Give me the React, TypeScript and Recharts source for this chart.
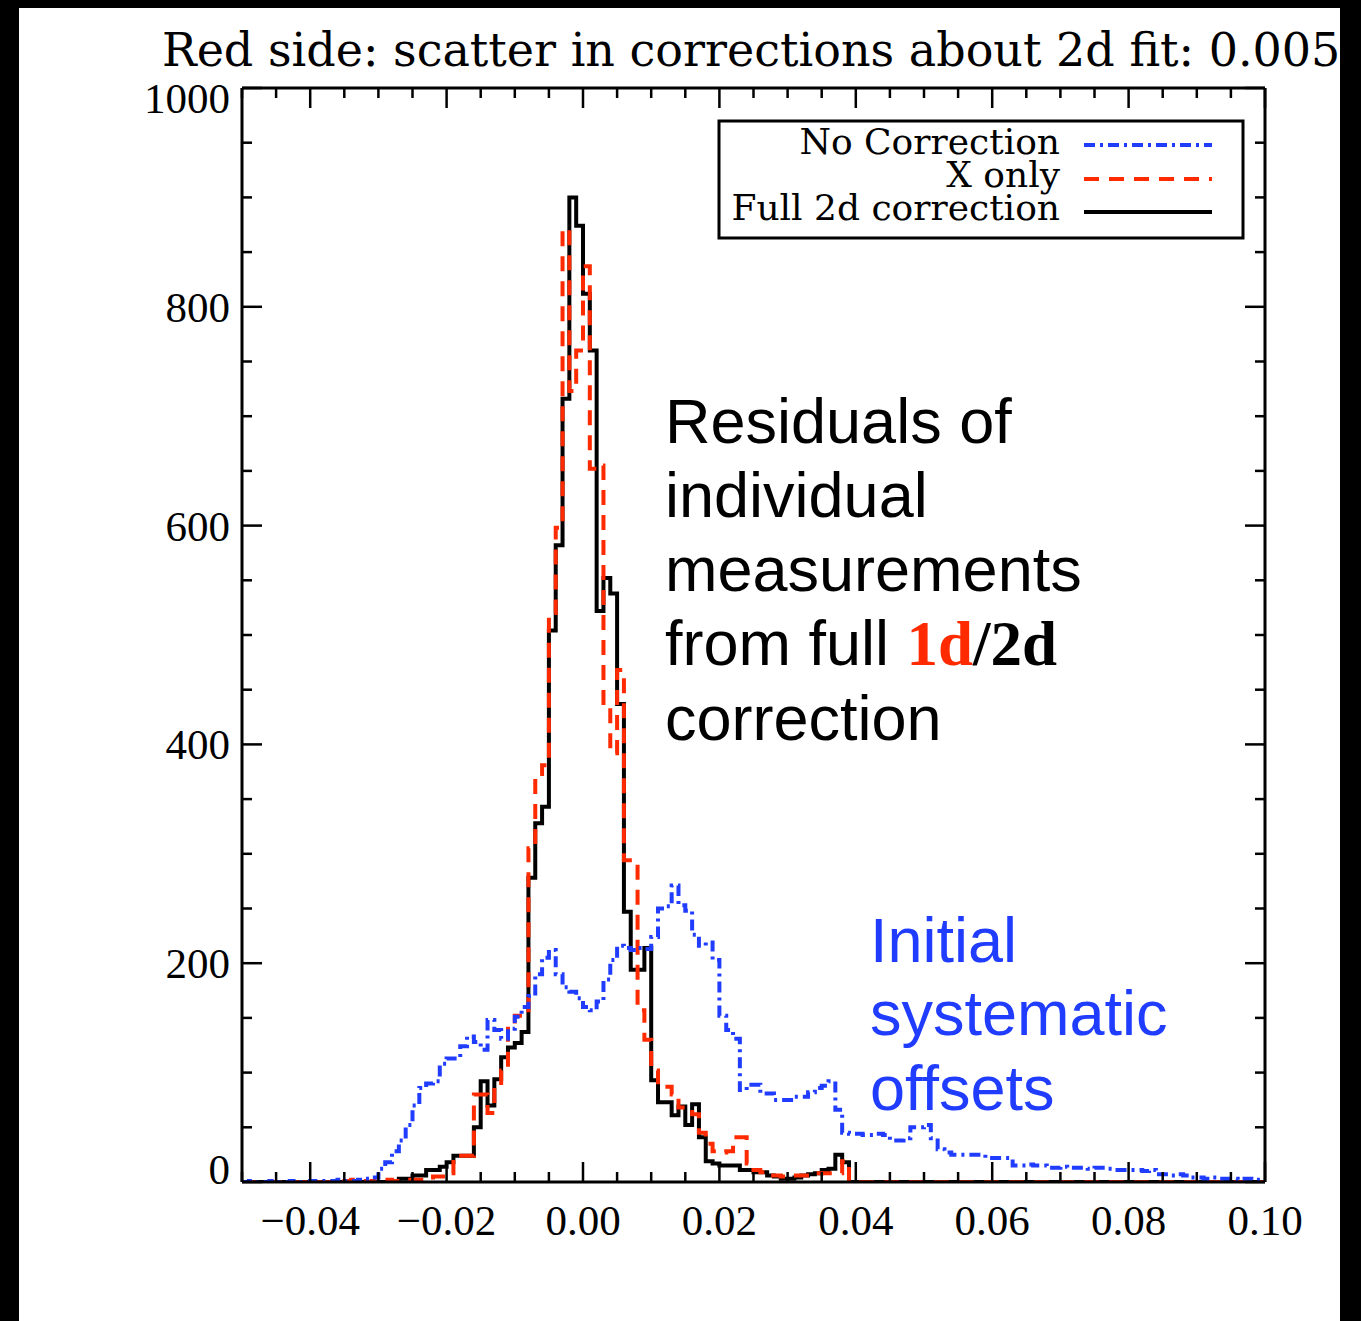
import React from "react";
import { LineChart, Line, XAxis, YAxis } from "recharts";

// histogram bins: 0.001 wide, starting at -0.05
const BIN_START = -0.05;
const BIN_WIDTH = 0.001;

const noCorrection = [
  0, 1, 0, 0, 1, 0, 0, 1, 0, 0,
  1, 1, 1, 1, 2, 1, 1, 2, 3, 4,
  12, 18, 28, 38, 52, 70, 86, 90, 92, 108,
  113, 113, 124, 133, 128, 121, 148, 139, 131, 140,
  151, 160, 170, 190, 205, 212, 190, 178, 174, 168,
  160, 157, 165, 185, 203, 216, 214, 212, 214, 213,
  224, 250, 252, 271, 253, 248, 226, 216, 219, 203,
  152, 139, 131, 84, 89, 89, 81, 81, 75, 75,
  75, 78, 78, 82, 86, 88, 92, 66, 45, 44,
  44, 43, 43, 44, 43, 38, 38, 40, 50, 50,
  52, 40, 30, 27, 25, 25, 25, 25, 25, 22,
  22, 22, 22, 15, 15, 16, 15, 15, 13, 13,
  14, 13, 13, 13, 12, 13, 13, 12, 11, 11,
  11, 11, 10, 11, 7, 7, 6, 7, 6, 4,
  4, 3, 4, 3, 3, 3, 2, 3, 2, 2,
];

const xOnly = [
  0, 0, 0, 0, 0, 0, 0, 0, 0, 0,
  0, 0, 0, 0, 0, 1, 2, 1, 0, 1,
  1, 2, 1, 1, 2, 2, 2, 4, 5, 5,
  8, 24, 24, 24, 80, 80, 63, 84, 102, 143,
  152, 152, 305, 373, 381, 520, 598, 871, 723, 760,
  837, 652, 655, 434, 392, 468, 294, 294, 157, 130,
  102, 87, 87, 80, 68, 64, 62, 45, 35, 28,
  27, 28, 41, 41, 17, 11, 9, 6, 6, 5,
  6, 6, 6, 6, 8, 8, 8, 8, 19, 0,
  0, 0, 0, 0, 0, 0, 0, 0, 0, 0,
  0, 0, 0, 0, 0, 0, 0, 0, 0, 0,
  0, 0, 0, 0, 0, 0, 0, 0, 0, 0,
  0, 0, 0, 0, 0, 0, 0, 0, 0, 0,
  0, 0, 0, 0, 0, 0, 0, 0, 0, 0,
  0, 0, 0, 0, 0, 0, 0, 0, 0, 0,
];

const full2d = [
  0, 0, 0, 0, 0, 0, 0, 0, 0, 0,
  0, 0, 0, 0, 0, 0, 0, 0, 0, 0,
  0, 0, 0, 3, 3, 6, 6, 11, 11, 14,
  18, 24, 24, 24, 50, 92, 70, 94, 114, 123,
  127, 137, 278, 328, 343, 504, 582, 716, 900, 874,
  812, 760, 522, 552, 538, 437, 247, 194, 194, 214,
  93, 73, 73, 61, 69, 52, 71, 41, 19, 17,
  15, 15, 15, 11, 11, 9, 9, 6, 5, 3,
  3, 4, 6, 7, 8, 11, 12, 25, 18, 0,
  0, 0, 0, 0, 0, 0, 0, 0, 0, 0,
  0, 0, 0, 0, 0, 0, 0, 0, 0, 0,
  0, 0, 0, 0, 0, 0, 0, 0, 0, 0,
  0, 0, 0, 0, 0, 0, 0, 0, 0, 0,
  0, 0, 0, 0, 0, 0, 0, 0, 0, 0,
  0, 0, 0, 0, 0, 0, 0, 0, 0, 0,
];

const xTicks = [
  -0.05, -0.045, -0.04, -0.035, -0.03, -0.025, -0.02, -0.015, -0.01, -0.005,
  0, 0.005, 0.01, 0.015, 0.02, 0.025, 0.03, 0.035, 0.04, 0.045,
  0.05, 0.055, 0.06, 0.065, 0.07, 0.075, 0.08, 0.085, 0.09, 0.095, 0.1,
];
const xMajor = [-0.04, -0.02, 0, 0.02, 0.04, 0.06, 0.08, 0.1];
const xLabels = ["\u22120.04", "\u22120.02", "0.00", "0.02", "0.04", "0.06", "0.08", "0.10"];

const yTicks = [
  0, 50, 100, 150, 200, 250, 300, 350, 400, 450, 500,
  550, 600, 650, 700, 750, 800, 850, 900, 950, 1000,
];
const yMajor = [0, 200, 400, 600, 800, 1000];
const yLabels = ["0", "200", "400", "600", "800", "1000"];

const seriesNames = ["No Correction", "X only", "Full 2d correction"];

const BLUE = "#1f3cff";
const RED = "#ff2a00";
const TICK_FONT = "'Liberation Serif', 'Times New Roman', serif";
const TEXT_FONT = "'DejaVu Serif', serif";
const SANS = "'Liberation Sans', Arial, sans-serif";
const LINE_W = 4;
const RED_DASH = "15 10";
const BLUE_DASH = "11 5 3 5";

const data = Array.from({ length: full2d.length + 1 }, (_, i) => {
  const j = Math.min(i, full2d.length - 1);
  return {
    x: Math.round((BIN_START + i * BIN_WIDTH) * 1e6) / 1e6,
    full: full2d[j],
    xonly: xOnly[j],
    nocorr: noCorrection[j],
  };
});

const majorIndex = (list: number[], v: number) =>
  list.findIndex((m) => Math.abs(m - v) < 1e-9);

const BottomTick = (props: any) => {
  const { x, y, payload } = props;
  const idx = majorIndex(xMajor, payload.value);
  const len = idx >= 0 ? 20 : 10;
  return (
    <g>
      <line x1={x} x2={x} y1={y} y2={y - len} stroke="#000" strokeWidth={2.5} />
      {idx >= 0 && (
        <text x={x} y={y + 53} textAnchor="middle" fontFamily={TICK_FONT} fontSize={43} fill="#000">
          {xLabels[idx]}
        </text>
      )}
    </g>
  );
};

const TopTick = (props: any) => {
  const { x, y, payload } = props;
  const len = majorIndex(xMajor, payload.value) >= 0 ? 20 : 10;
  return <line x1={x} x2={x} y1={y} y2={y + len} stroke="#000" strokeWidth={2.5} />;
};

const LeftTick = (props: any) => {
  const { x, y, payload } = props;
  const idx = majorIndex(yMajor, payload.value);
  const len = idx >= 0 ? 20 : 10;
  // IDL nudges the end labels inside the axis range
  let dy = 15;
  if (payload.value === 0) dy = 2;
  if (payload.value === 1000) dy = 25;
  return (
    <g>
      <line x1={x} x2={x + len} y1={y} y2={y} stroke="#000" strokeWidth={2.5} />
      {idx >= 0 && (
        <text x={x - 12} y={y + dy} textAnchor="end" fontFamily={TICK_FONT} fontSize={43} fill="#000">
          {yLabels[idx]}
        </text>
      )}
    </g>
  );
};

const RightTick = (props: any) => {
  const { x, y, payload } = props;
  const len = majorIndex(yMajor, payload.value) >= 0 ? 20 : 10;
  return <line x1={x} x2={x - len} y1={y} y2={y} stroke="#000" strokeWidth={2.5} />;
};

const axisLine = { stroke: "#000", strokeWidth: 3 };

const Overlay = () => (
  <svg
    width={1361}
    height={1321}
    style={{ position: "absolute", left: 0, top: 0, pointerEvents: "none" }}
  >
    <text x={162} y={66} fontFamily={TEXT_FONT} fontSize={46} fill="#000">
      Red side: scatter in corrections about 2d fit: 0.0058
    </text>

    {/* legend */}
    <rect x={719} y={121} width={524} height={117} fill="#fff" stroke="#000" strokeWidth={3} />
    {seriesNames.map((name, i) => (
      <text
        key={name}
        x={1060}
        y={154 + i * 33}
        textAnchor="end"
        fontFamily={TEXT_FONT}
        fontSize={36}
        fill="#000"
      >
        {name}
      </text>
    ))}
    <line x1={1084} x2={1212} y1={145} y2={145} stroke={BLUE} strokeWidth={LINE_W} strokeDasharray={BLUE_DASH} />
    <line x1={1084} x2={1212} y1={179} y2={179} stroke={RED} strokeWidth={LINE_W} strokeDasharray={RED_DASH} />
    <line x1={1084} x2={1212} y1={212} y2={212} stroke="#000" strokeWidth={LINE_W} />

    {/* annotations */}
    <g fontFamily={SANS} fontSize={63} fill="#000">
      <text x={665} y={443}>Residuals of</text>
      <text x={665} y={517}>individual</text>
      <text x={665} y={591}>measurements</text>
      <text x={665} y={665}>
        from full{" "}
        <tspan fontFamily={TICK_FONT} fontWeight="bold" fill={RED}>1d</tspan>
        <tspan fontFamily={TICK_FONT} fontWeight="bold">/2d</tspan>
      </text>
      <text x={665} y={740}>correction</text>
    </g>
    <g fontFamily={SANS} fontSize={63} fill={BLUE}>
      <text x={870} y={962}>Initial</text>
      <text x={870} y={1035}>systematic</text>
      <text x={870} y={1110}>offsets</text>
    </g>
  </svg>
);

const App: React.FC = () => {
  return (
    <div
      style={{
        position: "absolute",
        left: 0,
        top: 0,
        width: 1361,
        height: 1321,
        background: "#000",
        overflow: "hidden",
      }}
    >
      <div
        style={{
          position: "absolute",
          left: 19,
          top: 8,
          width: 1321,
          height: 1313,
          background: "#fff",
          overflow: "hidden",
        }}
      >
        <div style={{ position: "absolute", left: -19, top: -8, width: 1361, height: 1321 }}>
          <LineChart
            width={1361}
            height={1321}
            data={data}
            margin={{ top: 78, right: 86, bottom: 79, left: 142 }}
          >
            <XAxis
              xAxisId="bottom"
              dataKey="x"
              type="number"
              domain={[-0.05, 0.1]}
              allowDataOverflow
              ticks={xTicks}
              interval={0}
              tickSize={0}
              tickMargin={0}
              tickLine={false}
              tick={BottomTick}
              height={60}
              axisLine={axisLine}
            />
            <XAxis
              xAxisId="top"
              orientation="top"
              dataKey="x"
              type="number"
              domain={[-0.05, 0.1]}
              allowDataOverflow
              ticks={xTicks}
              interval={0}
              tickSize={0}
              tickMargin={0}
              tickLine={false}
              tick={TopTick}
              height={10}
              axisLine={axisLine}
            />
            <YAxis
              yAxisId="left"
              type="number"
              domain={[0, 1000]}
              allowDataOverflow
              ticks={yTicks}
              interval={0}
              tickSize={0}
              tickMargin={0}
              tickLine={false}
              tick={LeftTick}
              width={100}
              axisLine={axisLine}
            />
            <YAxis
              yAxisId="right"
              orientation="right"
              type="number"
              domain={[0, 1000]}
              allowDataOverflow
              ticks={yTicks}
              interval={0}
              tickSize={0}
              tickMargin={0}
              tickLine={false}
              tick={RightTick}
              width={10}
              axisLine={axisLine}
            />
            <Line
              xAxisId="bottom"
              yAxisId="left"
              type="stepAfter"
              dataKey="full"
              name={seriesNames[2]}
              stroke="#000"
              strokeWidth={LINE_W}
              dot={false}
              activeDot={false}
              isAnimationActive={false}
            />
            <Line
              xAxisId="bottom"
              yAxisId="left"
              type="stepAfter"
              dataKey="xonly"
              name={seriesNames[1]}
              stroke={RED}
              strokeWidth={LINE_W}
              strokeDasharray={RED_DASH}
              dot={false}
              activeDot={false}
              isAnimationActive={false}
            />
            <Line
              xAxisId="top"
              yAxisId="right"
              type="stepAfter"
              dataKey="nocorr"
              name={seriesNames[0]}
              stroke={BLUE}
              strokeWidth={LINE_W}
              strokeDasharray={BLUE_DASH}
              dot={false}
              activeDot={false}
              isAnimationActive={false}
            />
          </LineChart>
          <Overlay />
        </div>
      </div>
    </div>
  );
};

export default App;
